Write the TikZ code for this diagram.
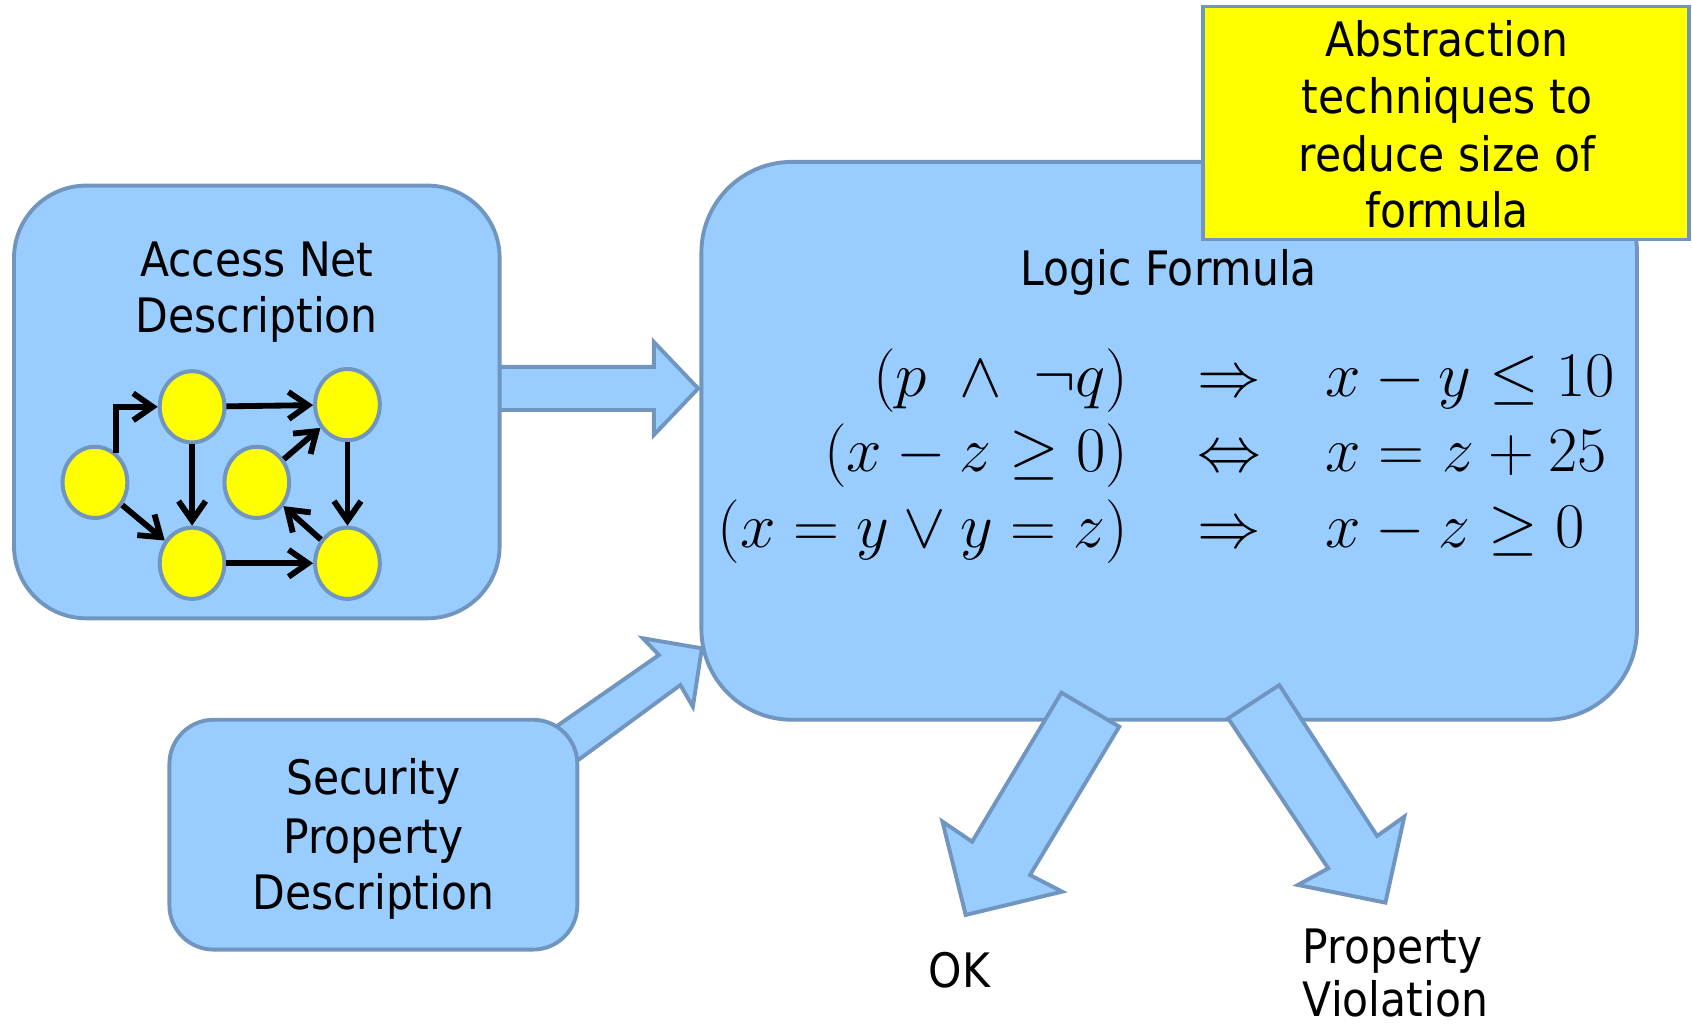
\RequirePackage{fix-cm}
\documentclass[tikz,border=0pt]{standalone}
\usepackage[no-math]{fontspec}
\setmainfont{DejaVu Sans}[FakeStretch=0.895]
\usetikzlibrary{arrows.meta,shapes.geometric}
\definecolor{boxfill}{RGB}{153,204,255}
\definecolor{boxline}{RGB}{112,150,192}
\definecolor{hiyellow}{RGB}{255,255,0}
\begin{document}
\begin{tikzpicture}[x=0.5pt,y=-0.5pt,
  blk/.style={draw=boxline, fill=boxfill, line width=1.8pt, inner sep=0pt},
  dot/.style={ellipse, draw=boxline, fill=hiyellow, line width=1.85pt, minimum width=30pt, minimum height=33pt, inner sep=0pt},
  garr/.style={draw=black, line width=2.7pt, -{Straight Barb[length=9pt,width=12.5pt]}},
  lbl/.style={font=\fontsize{22}{26}\selectfont, inner sep=0pt, anchor=base},
  mth/.style={font=\fontsize{29.5}{35}\selectfont, inner sep=0pt},
  barrow/.style={draw=boxline, fill=boxfill, line width=1.8pt, line join=miter}]
\useasboundingbox (0,0) rectangle (1568,952);

% Logic formula box
\node[blk, rounded corners=42pt, minimum width=433.5pt, minimum height=258.5pt] (logic) at (1083.5,408.5) {};

% block arrows into the logic box
\draw[barrow] (450,340) -- (606,340) -- (606,317) -- (647,360) -- (606,403) -- (606,380) -- (450,380) -- cycle;
\draw[barrow] (503,682) -- (610.6,607) -- (595.8,591.5) -- (650.4,600.8) -- (642.1,654.9) -- (630.5,634.8) -- (520,716) -- cycle;

% Access net box
\node[blk, rounded corners=33.5pt, minimum width=225pt, minimum height=200.5pt] (access) at (238,372.5) {};
% Security box
\node[blk, rounded corners=20.5pt, minimum width=189pt, minimum height=106.5pt] (security) at (346,773.5) {};

% graph
\node[dot] (A) at (88,447) {};
\node[dot] (B) at (178,377) {};
\node[dot] (C) at (322,375) {};
\node[dot] (D) at (238,447) {};
\node[dot] (E) at (178,522) {};
\node[dot] (F) at (322,522) {};
\draw[garr] (A.55) |- (B.west);
\draw[garr] (A) -- (E);
\draw[garr] (B) -- (C);
\draw[garr] (B) -- (E);
\draw[garr] (D) -- (C);
\draw[garr] (C) -- (F);
\draw[garr] (F) -- (D);
\draw[garr] (E) -- (F);

% output arrows
\draw[barrow] (983.6,641.9) -- (1037.2,673.4) -- (954.5,810.9) -- (984.3,826.3) -- (894.9,847.9) -- (873.4,761.4) -- (900.9,780) -- cycle;
\draw[barrow] (1138.2,665.7) -- (1185.5,634.8) -- (1276.2,774.7) -- (1301.4,756.8) -- (1283.9,836.5) -- (1202.8,820.1) -- (1230.9,804.7) -- cycle;

% yellow note
\node[draw=boxline, fill=hiyellow, line width=1.8pt, minimum width=225pt, minimum height=108pt, inner sep=0pt] (note) at (1340,114) {};

% texts
\node[lbl] (acc1) at (238,256.4) {Access Net};
\node[lbl] (acc2) at (238,308.3) {Description};
\node[lbl] (lf) at (1083,265) {Logic Formula};
\node[lbl] (n1) at (1341,52.5) {Abstraction};
\node[lbl] (n2) at (1341,105) {techniques to};
\node[lbl] (n3) at (1341,159) {reduce size of};
\node[lbl] (n4) at (1341,211) {formula};
\node[lbl] (s1) at (346,736.7) {Security};
\node[lbl] (s2) at (346,790.8) {Property};
\node[lbl] (s3) at (346,843.3) {Description};
\node[lbl] (ok) at (889,915) {OK};
\node[lbl, anchor=base west] (pv1) at (1207,893) {Property};
\node[lbl, anchor=base west] (pv2) at (1207,942) {Violation};

% formulas
\node[mth, anchor=base east] (l1) at (1046,367) {$(p\;\wedge\;\neg q)$};
\node[mth, anchor=base] (m1) at (1139,367) {$\Rightarrow$};
\node[mth, anchor=base west] (r1) at (1228,367) {$x-y\leq 10$};
\node[mth, anchor=base east] (l2) at (1046,437) {$(x-z\geq 0)$};
\node[mth, anchor=base] (m2) at (1139,437) {$\Leftrightarrow$};
\node[mth, anchor=base west] (r2) at (1228,437) {$x=z+25$};
\node[mth, anchor=base east] (l3) at (1046,507) {$(x=y\vee y=z)$};
\node[mth, anchor=base] (m3) at (1139,507) {$\Rightarrow$};
\node[mth, anchor=base west] (r3) at (1228,507) {$x-z\geq 0$};
\end{tikzpicture}
\end{document}
